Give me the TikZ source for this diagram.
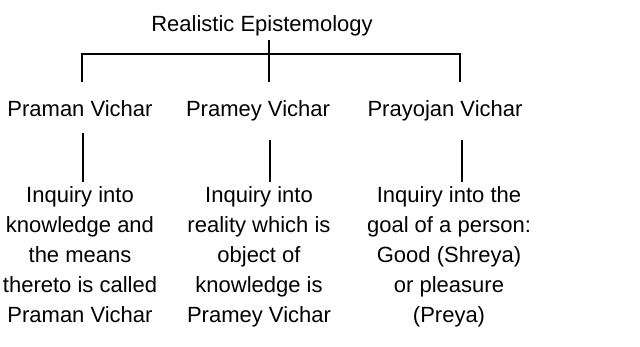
\documentclass[tikz,border=0pt]{standalone}
\usepackage{fontspec}
\setmainfont{Liberation Sans}
\usetikzlibrary{positioning}
\begin{document}
\begin{tikzpicture}[x=1pt,y=-1pt,
    every node/.style={font=\fontsize{22}{30}\selectfont, inner sep=0pt, align=center},
    link/.style={line width=1.6pt}]
    \useasboundingbox (0,0) rectangle (640,347);

    % Radice
    \node (root) [anchor=base] at (262,32) {Realistic Epistemology};

    % Secondo livello
    \node (praman) [anchor=base] at (80,117) {Praman Vichar};
    \node (pramey) [anchor=base] at (258,117) {Pramey Vichar};
    \node (prayojan) [anchor=base] at (445,117) {Prayojan Vichar};

    % Descrizioni
    \node (pramanDesc) [anchor=north] at (80,186) {Inquiry into\\knowledge and\\the means\\thereto is called\\Praman Vichar};
    \node (prameyDesc) [anchor=north] at (259,186) {Inquiry into\\reality which is\\object of\\knowledge is\\Pramey Vichar};
    \node (prayojanDesc) [anchor=north] at (449,186) {Inquiry into the\\goal of a person:\\Good (Shreya)\\or pleasure\\(Preya)};

    % Punti della barra
    \coordinate (hub) at (269,54);
    \coordinate (barL) at (82,54);
    \coordinate (barR) at (460,54);
    \coordinate (dropL) at (82,82);
    \coordinate (dropM) at (269,82);
    \coordinate (dropR) at (460,82);

    % Collegamenti
    \draw[link] ([xshift=7pt,yshift=-8pt]root.base) -- (hub) -- (dropM);
    \draw[link] (dropL) -- (barL) -- (barR) -- (dropR);
    \draw[link] ([xshift=3pt,yshift=-16pt]praman.base) -- ([xshift=3pt,yshift=4pt]pramanDesc.north);
    \draw[link] ([xshift=12pt,yshift=-23pt]pramey.base) -- ([xshift=11pt,yshift=4pt]prameyDesc.north);
    \draw[link] ([xshift=17pt,yshift=-23pt]prayojan.base) -- ([xshift=13pt,yshift=4pt]prayojanDesc.north);
\end{tikzpicture}
\end{document}
